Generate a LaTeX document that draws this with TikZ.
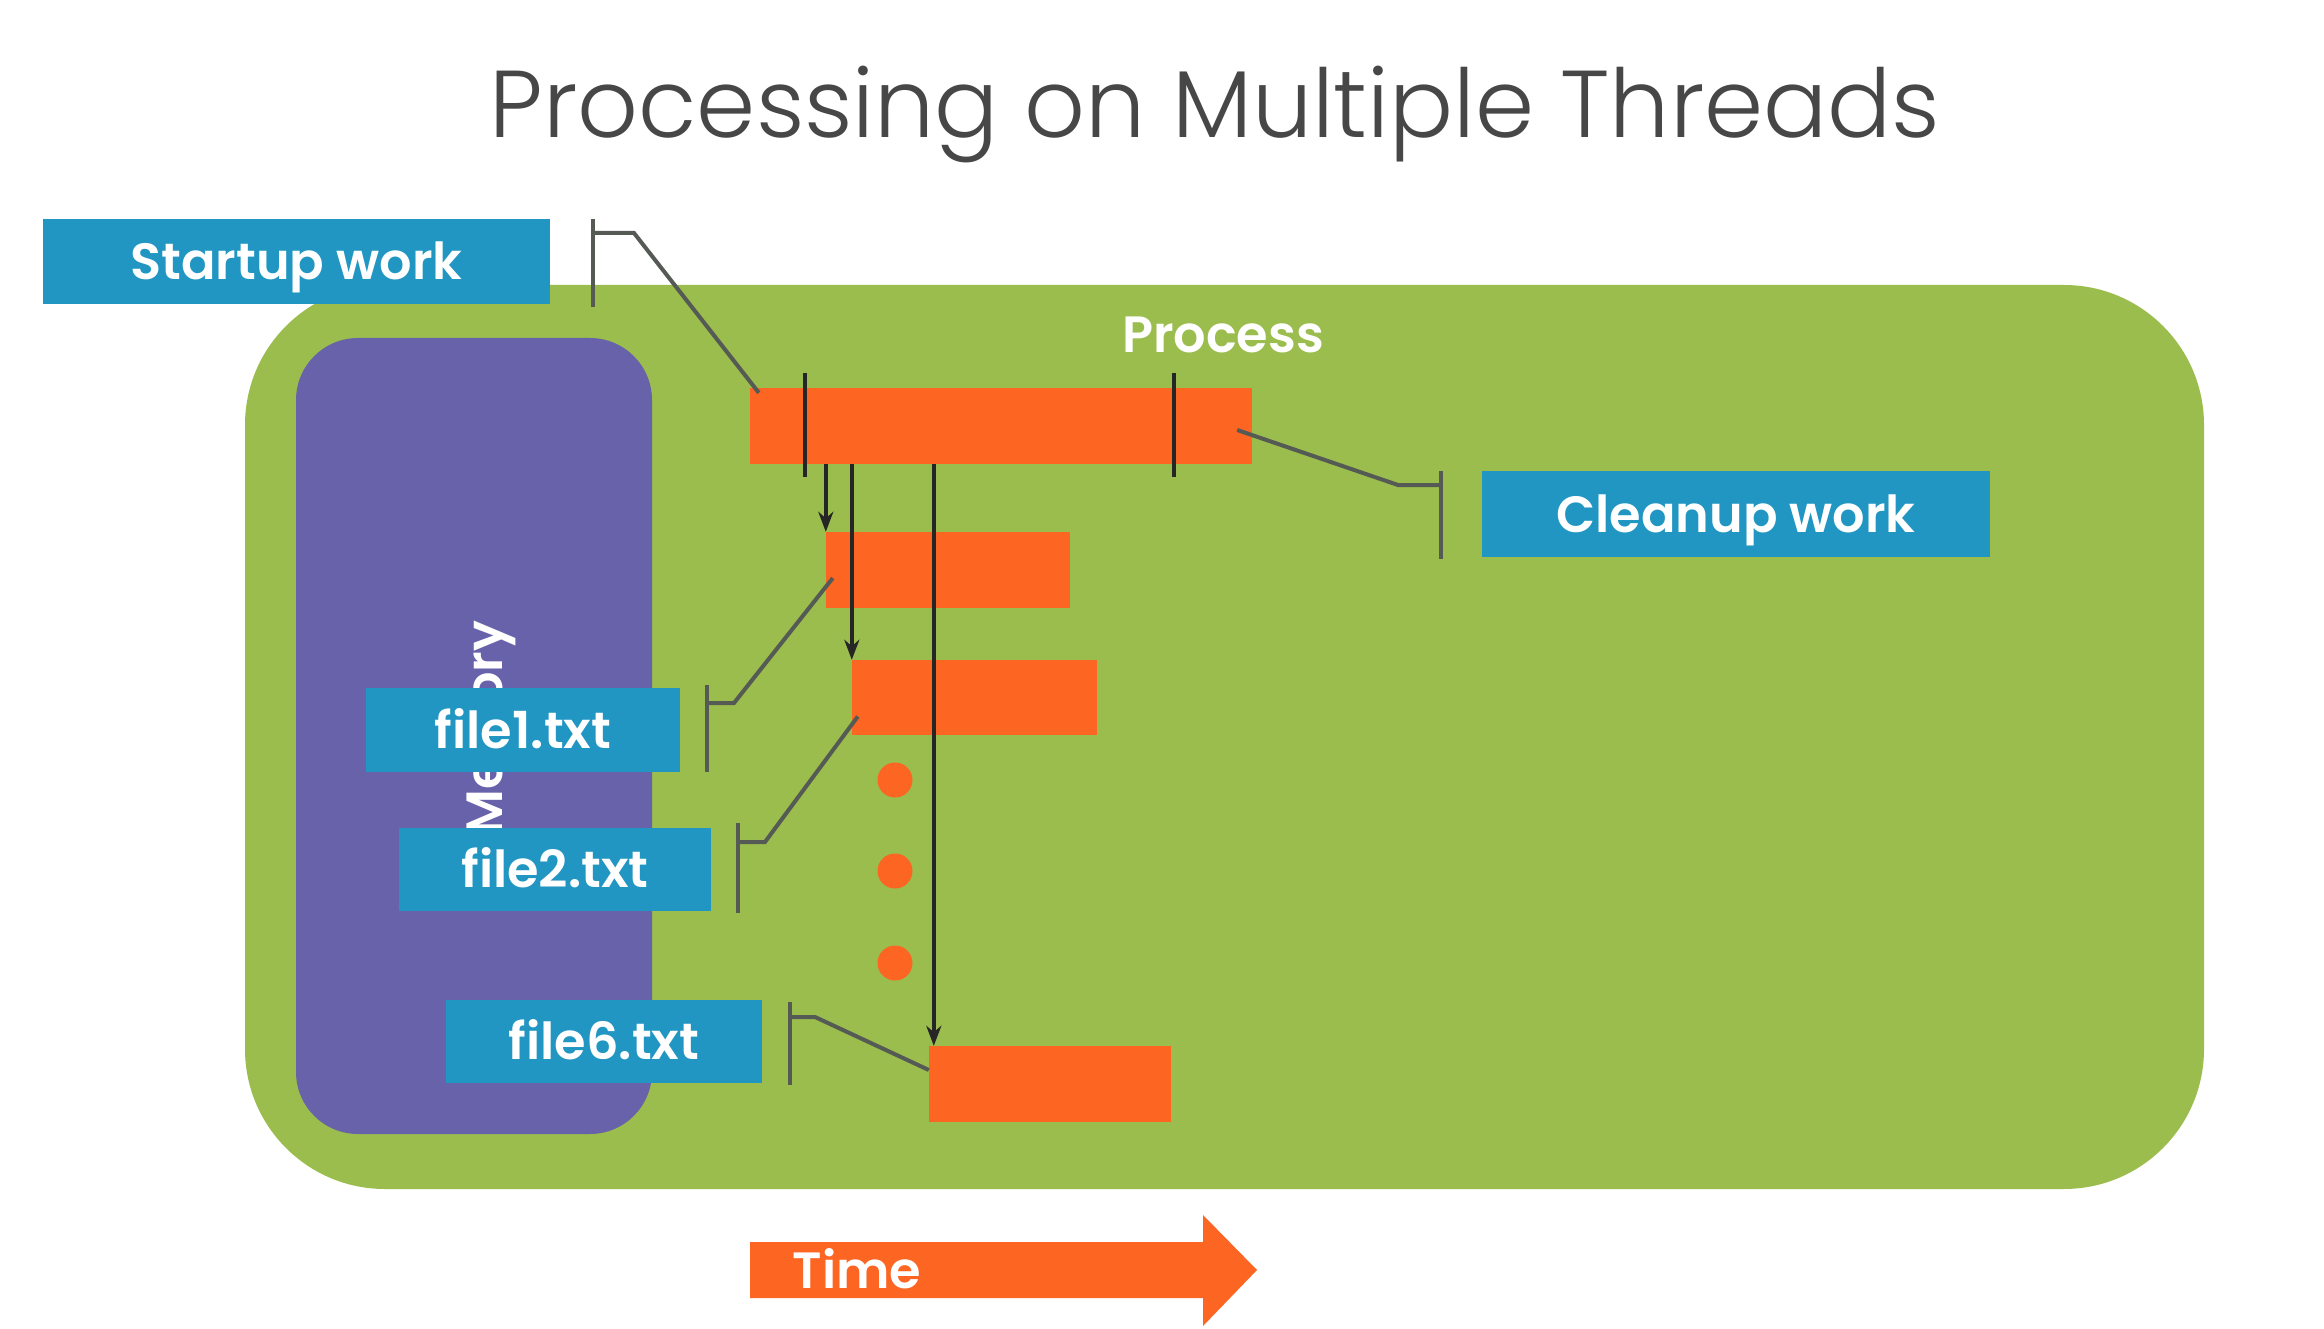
\documentclass[tikz,border=0pt]{standalone}
\usepackage{fontspec}
\setmainfont{Poppins}
\newfontfamily\titlefont{Poppins}[UprightFont=* Light]
\newfontfamily\lblfont{Poppins}[UprightFont=* SemiBold]
\usetikzlibrary{arrows.meta}
\definecolor{lblue}{HTML}{2196C2}
\definecolor{pgreen}{HTML}{9BBD4D}
\definecolor{porange}{HTML}{FD6523}
\definecolor{ppurple}{HTML}{6862AA}
\definecolor{bracketgray}{HTML}{555A55}
\definecolor{titlegray}{HTML}{474747}
\begin{document}
\begin{tikzpicture}[x=1pt,y=-1pt,
  wtext/.style={text=white,inner sep=0pt,text height=36pt,text depth=0pt,
    font=\lblfont\fontsize{51}{60}\selectfont},
  lbl/.style={wtext,fill=lblue},
  bar/.style={fill=porange,inner sep=0pt},
  bracket/.style={draw=bracketgray,line width=4pt},
  tick/.style={draw=black!85,line width=4pt},
  thread/.style={draw=black!85,line width=4pt,-{Stealth[length=20pt,width=15pt]}},
  dot/.style={circle,fill=porange,inner sep=0pt,minimum size=35pt}]
\useasboundingbox (0,0) rectangle (2324,1329);
\fill[white] (0,0) rectangle (2324,1329);

% title
\node[text=titlegray,font=\titlefont\fontsize{95}{110}\selectfont,inner sep=0pt,
  text height=67pt,text depth=0pt] (title) at (1215,104) {Processing on Multiple Threads};

% process container and memory block
\fill[pgreen,rounded corners=140pt] (245,285) rectangle (2204,1189);
\fill[ppurple,rounded corners=62pt] (296,338) rectangle (652,1134);
\node[wtext,rotate=90] (memory) at (484,728) {Memory};
\node[wtext] (process) at (1223,335) {Process};

% work bars
\node[bar,minimum width=502pt,minimum height=76pt] (main) at (1001,426) {};
\node[bar,minimum width=244pt,minimum height=76pt] (bar1) at (948,570) {};
\node[bar,minimum width=245pt,minimum height=75pt] (bar2) at (974.5,697.5) {};
\node[bar,minimum width=242pt,minimum height=76pt] (bar6) at (1050,1084) {};

% start / end ticks on the main bar
\draw[tick] (805,373) -- (805,477);
\draw[tick] (1174,373) -- (1174,477);

% threads spawned from the main bar
\draw[thread] (bar1.north west |- main.south) -- (bar1.north west);
\draw[thread] (bar2.north west |- main.south) -- (bar2.north west);
\draw[thread] ([xshift=5pt]bar6.north west |- main.south) -- ([xshift=5pt]bar6.north west);

% pending threads
\node[dot] (d1) at (895,780) {};
\node[dot] (d2) at (895,871) {};
\node[dot] (d3) at (895,963) {};

% labels
\node[lbl,minimum width=507pt,minimum height=85pt] (startup) at (296.5,261.5) {Startup work};
\node[lbl,minimum width=508pt,minimum height=86pt] (cleanup) at (1736,514) {Cleanup work};
\node[lbl,minimum width=314pt,minimum height=84pt] (file1) at (523,730) {file1.txt};
\node[lbl,minimum width=312pt,minimum height=83pt] (file2) at (555,869.5) {file2.txt};
\node[lbl,minimum width=316pt,minimum height=83pt] (file6) at (604,1041.5) {file6.txt};

% callout brackets
\coordinate (sj) at (593,233);
\draw[bracket] (593,219) -- (593,307);
\draw[bracket] (sj) -- (634,233) -- ([xshift=9pt,yshift=-5pt]main.north west);

\coordinate (cj) at (1441,485);
\draw[bracket] (1441,471) -- (1441,559);
\draw[bracket] ([xshift=-15pt,yshift=-4pt]main.east) -- (1398,485) -- (cj);

\coordinate (f1j) at (707,703);
\draw[bracket] (707,685) -- (707,772);
\draw[bracket] (f1j) -- (734,703) -- ([xshift=7pt,yshift=-8pt]bar1.west);

\coordinate (f2j) at (738,842);
\draw[bracket] (738,823) -- (738,913);
\draw[bracket] (f2j) -- (765,842) -- ([xshift=6pt,yshift=-19pt]bar2.west);

\coordinate (f6j) at (790,1017);
\draw[bracket] (790,1002) -- (790,1085);
\draw[bracket] (f6j) -- (815,1017) -- ([yshift=14pt]bar6.west);

% time axis
\fill[porange] (750,1242) -- (1203,1242) -- (1203,1215) -- (1257,1270)
  -- (1203,1326) -- (1203,1298) -- (750,1298) -- cycle;
\node[wtext] (time) at (857,1270) {Time};
\end{tikzpicture}
\end{document}
